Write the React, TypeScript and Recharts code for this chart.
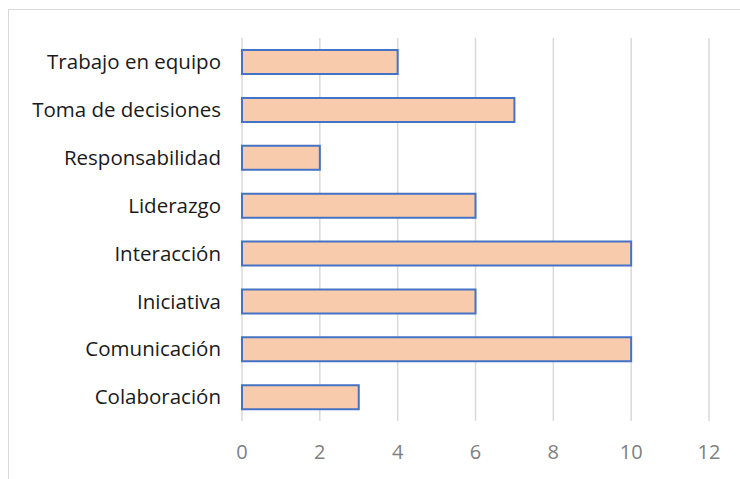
import React from "react";
import { BarChart, Bar, XAxis, YAxis, CartesianGrid } from "recharts";

const categories = [
  "Trabajo en equipo",
  "Toma de decisiones",
  "Responsabilidad",
  "Liderazgo",
  "Interacción",
  "Iniciativa",
  "Comunicación",
  "Colaboración",
];
const values = [4, 7, 2, 6, 10, 6, 10, 3];
const xTicks = [0, 2, 4, 6, 8, 10, 12];

const data = categories.map((name, i) => ({ name, value: values[i] }));

const App: React.FC = () => {
  return (
    <div style={{ position: "absolute", left: 0, top: 0, width: 740, height: 479, overflow: "hidden", background: "#fff" }}>
      <div
        style={{
          position: "absolute",
          left: 8,
          top: 9,
          width: 800,
          height: 600,
          border: "1px solid #d9d9d9",
        }}
      />
      <div style={{ position: "absolute", left: 0, top: 0 }}>
        <BarChart
          width={740}
          height={479}
          data={data}
          layout="vertical"
          margin={{ top: 38, right: 31, bottom: 0, left: 0 }}
        >
          <CartesianGrid horizontal={false} stroke="#d9d9d9" strokeWidth={1.5} />
          <XAxis
            type="number"
            domain={[0, 12]}
            ticks={xTicks}
            axisLine={false}
            tickLine={false}
            tickMargin={18}
            height={58}
            tick={{ fill: "#808080", fontSize: 20, fontFamily: "Open Sans" }}
          />
          <YAxis
            type="category"
            dataKey="name"
            width={242}
            axisLine={false}
            tickLine={false}
            tickMargin={15}
            tick={{ fill: "#1a1a1a", fontSize: 20.5, fontFamily: "Open Sans" }}
          />
          <Bar dataKey="value" barSize={24} fill="#F8CBAD" stroke="#4472C4" strokeWidth={2} isAnimationActive={false} />
        </BarChart>
      </div>
    </div>
  );
};

export default App;
